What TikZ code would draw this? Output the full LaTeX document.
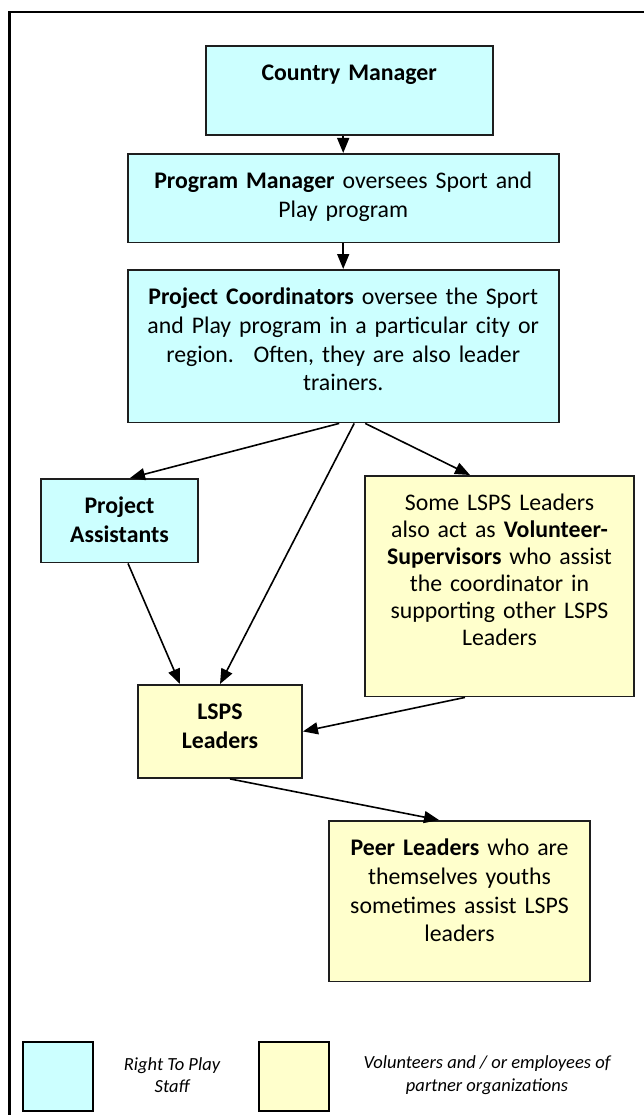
\documentclass[tikz,border=0pt]{standalone}
\usepackage{fontspec}
\setmainfont{Carlito}
\usetikzlibrary{arrows.meta}
\definecolor{staff}{RGB}{204,255,255}
\definecolor{volunteer}{RGB}{255,255,204}
\definecolor{outline}{RGB}{30,30,30}
\tikzstyle{box}=[draw=outline, line width=1.9pt, inner sep=0pt, anchor=north, align=center, text height=34.5pt, font=\fontsize{23.8}{28.8}\selectfont]
\tikzstyle{staffbox}=[box, fill=staff]
\tikzstyle{volbox}=[box, fill=volunteer]
\tikzstyle{linkarrow}=[line width=1.6pt, -{Triangle[length=15pt,width=12pt]}]
\tikzstyle{legendbox}=[draw=black, line width=2pt, minimum width=70pt, minimum height=69pt, inner sep=0pt, anchor=north west]
\tikzstyle{legendtext}=[align=center, font=\fontsize{18.5}{22.5}\selectfont\itshape]

\begin{document}
\begin{tikzpicture}[x=1pt, y=-1pt]
    \useasboundingbox (0,0) rectangle (644,1115);
    % frame, open to the right and bottom
    \draw[line width=2.2pt] (9.5,1115) |- (644,12);

    \node[staffbox, text width=287pt, text depth=55pt] (country) at (349.2,45) {\textbf{Country Manager}};
    \node[staffbox, text width=431pt, text depth=54pt] (program) at (343.2,153) {\textbf{Program Manager} oversees Sport and\\Play program};
    \node[staffbox, text width=431pt, text depth=118pt] (coord) at (343.2,269) {\textbf{Project Coordinators} oversee the Sport\\and Play program in a particular city or\\region.~ Often, they are also leader\\trainers.};
    \node[staffbox, text width=157pt, text depth=49pt] (assist) at (119.5,478) {\textbf{Project}\\\textbf{Assistants}};
    \node[volbox, text width=269pt, text depth=186pt, font=\fontsize{23.8}{27}\selectfont] (supervise) at (499.5,475) {Some LSPS Leaders\\also act as \textbf{Volunteer-}\\\textbf{Supervisors} who assist\\the coordinator in\\supporting other LSPS\\Leaders};
    \node[volbox, text width=164pt, text depth=58.5pt] (lsps) at (220,684) {\textbf{LSPS}\\\textbf{Leaders}};
    \node[volbox, text width=261pt, text depth=126pt] (peer) at (459.5,820) {\textbf{Peer Leaders} who are\\themselves youths\\sometimes assist LSPS\\leaders};

    \draw[linkarrow] (country.south -| program.north) -- (program.north);
    \draw[linkarrow] (program.south) -- (coord.north);
    \draw[linkarrow] ([xshift=-4pt]coord.south) -- ([xshift=10.5pt]assist.north);
    \draw[linkarrow] ([xshift=11pt]coord.south) -- (lsps.north);
    \draw[linkarrow] ([xshift=22pt]coord.south) -- ([xshift=-29.5pt]supervise.north);
    \draw[linkarrow] ([xshift=8.5pt]assist.south) -- ([xshift=-40pt]lsps.north);
    \draw[linkarrow] ([xshift=-34.5pt]supervise.south) -- (lsps.east);
    \draw[linkarrow] ([xshift=10pt]lsps.south) -- ([xshift=-20.5pt]peer.north);

    % legend
    \node[legendbox, fill=staff] (staffkey) at (22,1041) {};
    \node[legendtext] (stafftext) at (172,1075) {Right To Play\\Staff};
    \node[legendbox, fill=volunteer] (volkey) at (258,1041) {};
    \node[legendtext] (voltext) at (487,1075) {Volunteers and / or employees of\\partner organizations};
\end{tikzpicture}
\end{document}
